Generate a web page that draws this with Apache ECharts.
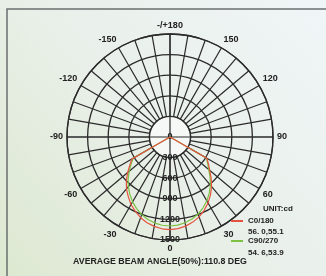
<!DOCTYPE html>
<html>
<head>
<meta charset="utf-8">
<script src="https://cdn.jsdelivr.net/npm/echarts@6/dist/echarts.min.js"></script>
<style>
  html, body { margin: 0; padding: 0; }
  #main { width: 326px; height: 276px; }
</style>
</head>
<body>
<div id="main"></div>
<script>
// angles (deg, 0 = straight down, + = right side)
var angleDeg = [-65, -60, -55, -50, -45, -40, -35, -30, -25, -20, -15, -10, -5,
                0, 5, 10, 15, 20, 25, 30, 35, 40, 45, 50, 55, 60, 65];
// C0/180 candela
var c0180 = [0, 640, 715, 805, 900, 985, 1060, 1135, 1195, 1250, 1292, 1322, 1342,
             1348, 1340, 1318, 1283, 1238, 1178, 1108, 1028, 942, 848, 756, 684, 620, 0];
// C90/270 candela
var c90270 = [0, 620, 690, 775, 862, 945, 1020, 1090, 1150, 1203, 1243, 1273, 1290,
              1296, 1288, 1268, 1236, 1194, 1138, 1072, 998, 914, 824, 736, 668, 612, 0];
var radialTicks = [0, 300, 600, 900, 1200, 1500];
var seriesNames = ['C0/180', 'C90/270'];
var beamText = ['56. 0,55.1', '54. 6,53.9'];

var chart = echarts.init(document.getElementById('main'));
var font = '"Liberation Sans", Arial, sans-serif';
var gridColor = '#2b2b2b';
var cx = 170, cy = 137, R = 103;
var rMax = radialTicks[radialTicks.length - 1];
var rStep = radialTicks[1] - radialTicks[0];

function toPolar(vals) {
    var out = [];
    for (var i = 0; i < vals.length; i++) {
        out.push([vals[i], (angleDeg[i] + 360) % 360]);
    }
    return out;
}

function txt(x, y, s, size, align) {
    return {
        type: 'text', z: 100, x: x, y: y, silent: true,
        style: {text: s, fontSize: size, fontFamily: font, fontWeight: 'bold', fill: '#222',
                textAlign: align || 'left', textVerticalAlign: 'middle'}
    };
}

chart.setOption({
    animation: false,
    graphic: [
        {
            type: 'rect', z: -10, silent: true,
            shape: {x: 0, y: 0, width: 326, height: 276},
            style: {
                fill: new echarts.graphic.LinearGradient(1, 0, 0, 1, [
                    {offset: 0, color: '#f0f5f7'},
                    {offset: 0.5, color: '#e9f0ea'},
                    {offset: 1, color: '#dde8d0'}
                ])
            }
        },
        {
            type: 'rect', z: 100, silent: true,
            shape: {x: 7, y: 9, width: 340, height: 300},
            style: {fill: 'none', stroke: '#6b6f6f', lineWidth: 1.5}
        },
        txt(263, 209, 'UNIT:cd', 8),
        txt(248, 232, beamText[0], 8),
        txt(248, 253, beamText[1], 8),
        txt(160, 262, 'AVERAGE BEAM ANGLE(50%):110.8 DEG', 8.8, 'center')
    ],
    legend: {
        orient: 'vertical',
        left: 231, top: 217,
        padding: 0,
        icon: 'rect',
        itemWidth: 12, itemHeight: 2,
        itemGap: 12,
        textStyle: {fontSize: 8, fontFamily: font, fontWeight: 'bold', color: '#222'},
        data: seriesNames
    },
    polar: [
        {center: [cx, cy], radius: R},
        {center: [cx, cy], radius: [R * rStep / rMax, R]}
    ],
    angleAxis: [
        {
            polarIndex: 0,
            min: 0, max: 360, interval: 90,
            startAngle: 270, clockwise: false,
            axisLine: {show: false},
            axisTick: {show: false},
            axisLabel: {show: false},
            splitLine: {show: true, lineStyle: {color: gridColor, width: 1.2}}
        },
        {
            polarIndex: 1,
            min: -180, max: 180, interval: 10,
            startAngle: 90, clockwise: false,
            axisLine: {show: true, lineStyle: {color: gridColor, width: 1.3}},
            axisTick: {show: false},
            axisLabel: {
                show: true, margin: 4,
                fontSize: 9, fontFamily: font, fontWeight: 'bold', color: '#222',
                formatter: function (v) {
                    if (v === -180) return '-/+180';
                    if (v === 180 || v % 30 !== 0) return '';
                    return String(v);
                }
            },
            splitLine: {show: true, lineStyle: {color: gridColor, width: 1.2}}
        }
    ],
    radiusAxis: [
        {
            polarIndex: 0,
            min: 0, max: rMax, interval: rStep,
            axisLine: {show: false},
            axisTick: {show: false},
            axisLabel: {
                show: true, margin: 0, align: 'center', verticalAlign: 'middle',
                padding: [0, 0, 6, 0],
                fontSize: 9, fontFamily: font, fontWeight: 'bold', color: '#222',
                formatter: function (v) { return String(v); }
            },
            splitLine: {show: true, lineStyle: {color: gridColor, width: 1.3}},
            splitArea: {show: true, areaStyle: {color: ['rgba(255,255,255,0.55)', 'rgba(255,255,255,0)', 'rgba(255,255,255,0)', 'rgba(255,255,255,0)', 'rgba(255,255,255,0)']}}
        },
        {
            polarIndex: 1,
            min: 0, max: 1,
            show: false
        }
    ],
    series: [
        {
            name: seriesNames[1], type: 'line', coordinateSystem: 'polar', polarIndex: 0,
            symbol: 'none', z: 5,
            lineStyle: {color: '#7cc142', width: 1.2},
            itemStyle: {color: '#7cc142'},
            data: toPolar(c90270)
        },
        {
            name: seriesNames[0], type: 'line', coordinateSystem: 'polar', polarIndex: 0,
            symbol: 'none', z: 6,
            lineStyle: {color: '#e4533f', width: 1.2},
            itemStyle: {color: '#e4533f'},
            data: toPolar(c0180)
        }
    ]
});
</script>
</body>
</html>
